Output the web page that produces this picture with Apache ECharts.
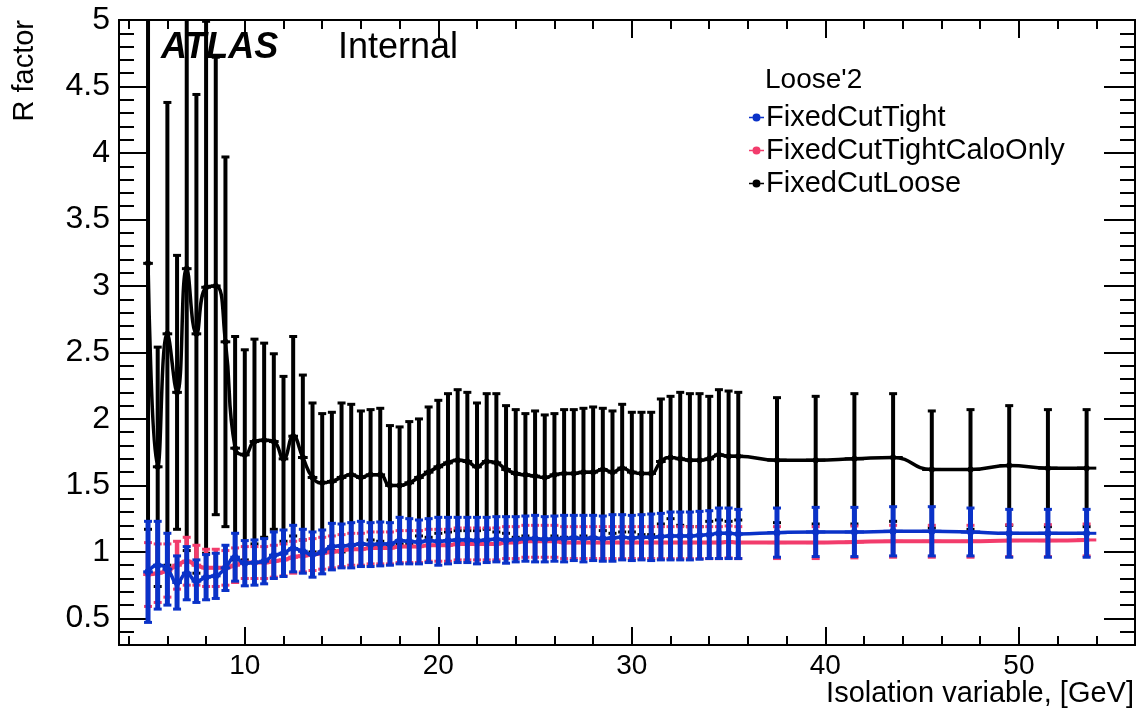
<!DOCTYPE html>
<html><head><meta charset="utf-8">
<script src="https://cdn.jsdelivr.net/npm/echarts@6/dist/echarts.min.js"></script>
<style>html,body{margin:0;padding:0;background:#fff}#c{width:1142px;height:711px}</style>
</head><body><div id="c"></div>
<script>
// ---- data ----
const isoX = [5.0,5.5,6.0,6.5,7.0,7.5,8.0,8.5,9.0,9.5,
  10.0,10.5,11.0,11.5,12.0,12.5,13.0,13.5,14.0,14.5,
  15.0,15.5,16.0,16.5,17.0,17.5,18.0,18.5,19.0,19.5,
  20.0,20.5,21.0,21.5,22.0,22.5,23.0,23.5,24.0,24.5,
  25.0,25.5,26.0,26.5,27.0,27.5,28.0,28.5,29.0,29.5,
  30.0,30.5,31.0,31.5,32.0,32.5,33.0,33.5,34.0,34.5,
  35.0,35.5,
  37.5,39.5,41.5,43.5,45.5,47.5,49.5,51.5,53.5];
const isoXErr = [0.25,0.25,0.25,0.25,0.25,0.25,0.25,0.25,0.25,0.25,
  0.25,0.25,0.25,0.25,0.25,0.25,0.25,0.25,0.25,0.25,
  0.25,0.25,0.25,0.25,0.25,0.25,0.25,0.25,0.25,0.25,
  0.25,0.25,0.25,0.25,0.25,0.25,0.25,0.25,0.25,0.25,
  0.25,0.25,0.25,0.25,0.25,0.25,0.25,0.25,0.25,0.25,
  0.25,0.25,0.25,0.25,0.25,0.25,0.25,0.25,0.25,0.25,
  0.25,0.25,
  0.5,0.5,0.5,0.5,0.5,0.5,0.5,0.5,0.5];

const tightVal = [0.85,0.90,0.87,0.77,0.84,0.78,0.81,0.82,0.88,0.96,
  0.915,0.92,0.93,0.975,0.99,1.025,1.005,0.98,1.00,1.04,
  1.045,1.05,1.06,1.055,1.06,1.06,1.085,1.08,1.075,1.085,
  1.08,1.085,1.09,1.09,1.085,1.09,1.095,1.09,1.095,1.10,
  1.10,1.095,1.10,1.10,1.105,1.10,1.105,1.10,1.105,1.11,
  1.105,1.11,1.11,1.115,1.12,1.12,1.12,1.125,1.13,1.14,
  1.14,1.135,
  1.145,1.15,1.15,1.155,1.155,1.15,1.14,1.14,1.14];
const tightErr = [0.38,0.33,0.27,0.20,0.20,0.16,0.17,0.17,0.17,0.18,
  0.17,0.17,0.17,0.175,0.175,0.175,0.165,0.17,0.165,0.175,
  0.165,0.17,0.17,0.165,0.165,0.16,0.175,0.17,0.165,0.165,
  0.18,0.175,0.17,0.17,0.175,0.17,0.17,0.175,0.17,0.17,
  0.175,0.17,0.17,0.175,0.17,0.175,0.17,0.17,0.175,0.17,
  0.17,0.17,0.175,0.175,0.18,0.18,0.18,0.18,0.18,0.19,
  0.19,0.185,
  0.185,0.185,0.185,0.185,0.185,0.18,0.18,0.18,0.18];

const caloVal = [0.83,0.84,0.86,0.90,0.93,0.90,0.88,0.88,0.88,0.90,
  0.92,0.92,0.92,0.93,0.94,0.96,0.97,0.98,0.99,1.00,
  1.01,1.02,1.02,1.03,1.03,1.03,1.04,1.04,1.04,1.05,
  1.05,1.05,1.06,1.06,1.06,1.06,1.06,1.07,1.07,1.08,
  1.08,1.08,1.08,1.07,1.07,1.07,1.07,1.07,1.07,1.07,
  1.07,1.07,1.07,1.07,1.07,1.07,1.07,1.07,1.07,1.07,
  1.075,1.07,
  1.07,1.07,1.075,1.08,1.08,1.08,1.085,1.085,1.09];
const caloErr = [0.24,0.22,0.20,0.18,0.18,0.15,0.14,0.14,0.13,0.13,
  0.12,0.12,0.12,0.12,0.12,0.12,0.12,0.12,0.12,0.12,
  0.12,0.12,0.12,0.12,0.12,0.12,0.12,0.12,0.12,0.12,
  0.12,0.12,0.12,0.12,0.12,0.12,0.12,0.12,0.12,0.12,
  0.12,0.12,0.12,0.12,0.12,0.12,0.12,0.12,0.12,0.12,
  0.12,0.12,0.12,0.12,0.12,0.12,0.12,0.12,0.12,0.12,
  0.12,0.12,
  0.12,0.12,0.12,0.12,0.12,0.12,0.12,0.12,0.12];

const looseVal = [3.17,1.64,2.64,2.20,3.13,2.64,2.99,3.00,2.58,1.78,
  1.73,1.83,1.84,1.83,1.70,1.87,1.71,1.56,1.52,1.53,
  1.56,1.58,1.56,1.58,1.58,1.50,1.50,1.52,1.56,1.60,
  1.64,1.67,1.69,1.68,1.64,1.68,1.67,1.62,1.59,1.58,
  1.57,1.56,1.58,1.59,1.59,1.60,1.60,1.62,1.60,1.63,
  1.60,1.59,1.59,1.68,1.71,1.70,1.69,1.69,1.70,1.73,
  1.72,1.72,
  1.69,1.69,1.70,1.71,1.62,1.62,1.65,1.63,1.63];
const looseErr = [2.0,0.90,1.74,1.03,2.12,1.80,2.0,1.72,1.39,0.84,
  0.79,0.77,0.73,0.66,0.62,0.75,0.62,0.56,0.52,0.52,
  0.56,0.53,0.50,0.49,0.50,0.45,0.44,0.46,0.44,0.49,
  0.50,0.52,0.53,0.52,0.48,0.51,0.52,0.48,0.48,0.46,
  0.49,0.47,0.46,0.48,0.48,0.48,0.49,0.46,0.46,0.48,
  0.45,0.46,0.46,0.47,0.46,0.50,0.50,0.50,0.47,0.49,
  0.49,0.48,
  0.47,0.48,0.49,0.48,0.44,0.45,0.45,0.44,0.44];

const seriesNames = ['FixedCutTight','FixedCutTightCaloOnly','FixedCutLoose'];
const xMajorTicks = [10,20,30,40,50];
const xMinorTicks = [4,6,8,12,14,16,18,22,24,26,28,32,34,36,38,42,44,46,48,52,54];
const yMajorTicks = [0.5,1,1.5,2,2.5,3,3.5,4,4.5,5];
const yMinorTicks = [0.3,0.4,0.6,0.7,0.8,0.9,1.1,1.2,1.3,1.4,1.6,1.7,1.8,1.9,
  2.1,2.2,2.3,2.4,2.6,2.7,2.8,2.9,3.1,3.2,3.3,3.4,3.6,3.7,3.8,3.9,
  4.1,4.2,4.3,4.4,4.6,4.7,4.8,4.9];

// ---- chart ----
const X_MIN = 3.5, X_MAX = 56, Y_MIN = 0.3, Y_MAX = 5;
const FONT = '"Liberation Sans", Arial, Helvetica, sans-serif';
const BLUE = '#0a32c8', PINK = '#f23c6c', BLACK = '#000000';

const chart = echarts.init(document.getElementById('c'), null, {renderer: 'canvas'});

const gridBox = {left: 119, right: 7, top: 20, bottom: 66, containLabel: false};

function xAx(gi, pos, ticks, len, labels) {
  return {
    type: 'value', gridIndex: gi, position: pos, min: X_MIN, max: X_MAX,
    axisLine: {show: true, onZero: false, lineStyle: {color: '#000', width: 2}},
    axisTick: {show: true, inside: true, length: len, customValues: ticks, lineStyle: {color: '#000', width: 2}},
    axisLabel: labels ? {show: true, customValues: ticks, margin: 7, color: '#000', fontSize: 28, fontFamily: FONT} : {show: false},
    splitLine: {show: false}
  };
}
function yAx(gi, pos, ticks, len, labels) {
  return {
    type: 'value', gridIndex: gi, position: pos, min: Y_MIN, max: Y_MAX,
    axisLine: {show: true, onZero: false, lineStyle: {color: '#000', width: 2}},
    axisTick: {show: true, inside: true, length: len, customValues: ticks, lineStyle: {color: '#000', width: 2}},
    axisLabel: labels ? {show: true, customValues: ticks, margin: 9, color: '#000', fontSize: 32, fontFamily: FONT,
      formatter: v => String(+v.toFixed(1))} : {show: false},
    splitLine: {show: false}
  };
}

function errRender(color, barW, capHalf, markerR) {
  return function (params, api) {
    const x = api.value(0), y = api.value(1), e = api.value(2), xe = api.value(3);
    const lo = Math.max(y - e, Y_MIN), hi = Math.min(y + e, Y_MAX);
    const pC = api.coord([x, y]);
    const pLo = api.coord([x, lo]);
    const pHi = api.coord([x, hi]);
    const pL = api.coord([x - xe, y]);
    const pR = api.coord([x + xe, y]);
    const st = {stroke: color, lineWidth: barW};
    const capSt = {stroke: color, lineWidth: 3};
    const ch = [
      {type: 'line', shape: {x1: pLo[0], y1: pLo[1], x2: pHi[0], y2: pHi[1]}, style: st},
      {type: 'line', shape: {x1: pL[0], y1: pL[1], x2: pR[0], y2: pR[1]}, style: {stroke: color, lineWidth: 3}}
    ];
    if (y - e >= Y_MIN) ch.push({type: 'line', shape: {x1: pLo[0] - capHalf, y1: pLo[1], x2: pLo[0] + capHalf, y2: pLo[1]}, style: capSt});
    if (y + e <= Y_MAX) ch.push({type: 'line', shape: {x1: pHi[0] - capHalf, y1: pHi[1], x2: pHi[0] + capHalf, y2: pHi[1]}, style: capSt});
    ch.push({type: 'circle', shape: {cx: pC[0], cy: pC[1], r: markerR}, style: {fill: color}});
    return {type: 'group', children: ch};
  };
}

function errData(vals, errs) { return isoX.map((x, i) => [x, vals[i], errs[i], isoXErr[i]]); }
function lineData(vals) { return isoX.map((x, i) => [x, vals[i]]); }

const legendIcon = 'path://M0,3.3L3,3.3L3,4.7L0,4.7Z M3,4A3.5,3.5 0 1 1 10,4A3.5,3.5 0 1 1 3,4Z M10,3.3L13,3.3L13,4.7L10,4.7Z';

const option = {
  animation: false,
  backgroundColor: '#fff',
  grid: [Object.assign({}, gridBox), Object.assign({}, gridBox)],
  xAxis: [
    xAx(0, 'bottom', xMajorTicks, 18, true),
    xAx(0, 'top', xMajorTicks, 18, false),
    xAx(1, 'bottom', xMinorTicks, 9, false),
    xAx(1, 'top', xMinorTicks, 9, false)
  ],
  yAxis: [
    yAx(0, 'left', yMajorTicks, 31, true),
    yAx(0, 'right', yMajorTicks, 31, false),
    yAx(1, 'left', yMinorTicks, 15, false),
    yAx(1, 'right', yMinorTicks, 15, false)
  ],
  legend: {
    orient: 'vertical', left: 744, top: 96, itemGap: 0,
    itemWidth: 15, itemHeight: 9, selectedMode: false,
    data: seriesNames.map(n => ({name: n, icon: legendIcon})),
    textStyle: {color: '#000', fontSize: 29, fontFamily: FONT, lineHeight: 33, padding: [0, 0, 0, -3]}
  },
  graphic: [
    {type: 'text', x: 161, y: 48, style: {text: 'ATLAS', font: 'italic bold 36px ' + FONT, fill: '#000', verticalAlign: 'middle'}},
    {type: 'text', x: 338, y: 48, style: {text: 'Internal', font: '36px ' + FONT, fill: '#000', verticalAlign: 'middle'}},
    {type: 'text', x: 765, y: 80, style: {text: "Loose'2", font: '28px ' + FONT, fill: '#000', verticalAlign: 'middle'}},
    {type: 'text', x: 1134, y: 694, style: {text: 'Isolation variable, [GeV]', font: '29px ' + FONT, fill: '#000', align: 'right', verticalAlign: 'middle'}},
    {type: 'text', x: 25, y: 20, rotation: Math.PI / 2, style: {text: 'R factor', font: '29px ' + FONT, fill: '#000', align: 'right', verticalAlign: 'middle'}}
  ],
  series: [
    {name: 'FixedCutLoose', type: 'custom', xAxisIndex: 0, yAxisIndex: 0, z: 2, clip: true,
      itemStyle: {color: BLACK}, renderItem: errRender(BLACK, 4, 4, 3), data: errData(looseVal, looseErr)},
    {name: 'FixedCutLoose', type: 'line', xAxisIndex: 0, yAxisIndex: 0, z: 3, smooth: 0.5, showSymbol: false,
      itemStyle: {color: BLACK}, lineStyle: {color: BLACK, width: 3.5}, data: lineData(looseVal)},
    {name: 'FixedCutTightCaloOnly', type: 'custom', xAxisIndex: 0, yAxisIndex: 0, z: 4, clip: true,
      itemStyle: {color: PINK}, renderItem: errRender(PINK, 4.5, 4, 3), data: errData(caloVal, caloErr)},
    {name: 'FixedCutTightCaloOnly', type: 'line', xAxisIndex: 0, yAxisIndex: 0, z: 4, smooth: 0.5, showSymbol: false,
      itemStyle: {color: PINK}, lineStyle: {color: PINK, width: 4}, data: lineData(caloVal)},
    {name: 'FixedCutTight', type: 'custom', xAxisIndex: 0, yAxisIndex: 0, z: 5, clip: true,
      itemStyle: {color: BLUE}, renderItem: errRender(BLUE, 5, 4, 3.5), data: errData(tightVal, tightErr)},
    {name: 'FixedCutTight', type: 'line', xAxisIndex: 0, yAxisIndex: 0, z: 5, smooth: 0.5, showSymbol: false,
      itemStyle: {color: BLUE}, lineStyle: {color: BLUE, width: 3.5}, data: lineData(tightVal)}
  ]
};
chart.setOption(option);
</script>
</body></html>
